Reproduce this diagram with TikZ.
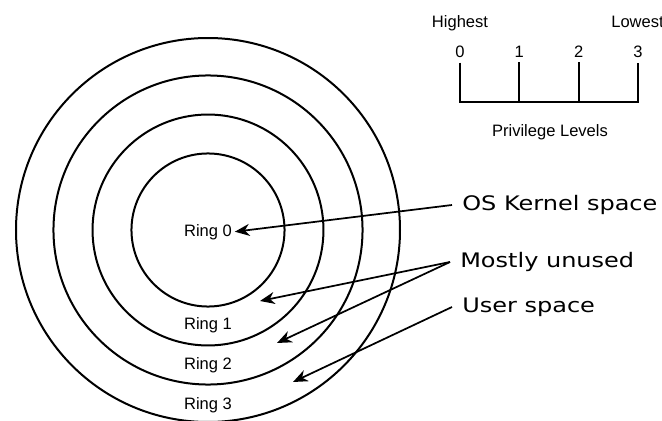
\documentclass[tikz,border=0pt]{standalone}
\usepackage{fontspec}
\setmainfont{Liberation Sans}
\newfontfamily\bigfont[FakeStretch=1.2]{DejaVu Sans}
\usetikzlibrary{arrows.meta}

\begin{document}
\begin{tikzpicture}[x=0.75pt,y=-0.75pt,font=\fontsize{12.4}{14}\selectfont]
      \tikzstyle{ring}=[draw,line width=1.5pt]
      \tikzstyle{ring label}=[anchor=base,inner sep=2pt]
      \tikzstyle{space label}=[anchor=west,inner xsep=7.5pt,font=\bigfont\fontsize{15}{18}\selectfont]
      \tikzstyle{pointer}=[draw,line width=1.3pt,-{Stealth[length=11pt,width=9pt,inset=3.5pt]}]
      \tikzstyle{scale line}=[draw,line width=1.5pt]

      \useasboundingbox (0,0) rectangle (662,421);

      % the four rings
      \coordinate (c) at (208,230);
      \foreach \r in {57.4,86.6,115.9,144}
          \draw[ring] (c) circle[radius=\r pt];

      \node[ring label] (r0) at (208,236) {Ring 0};
      \node[ring label] (r1) at (208,329) {Ring 1};
      \node[ring label] (r2) at (208,369) {Ring 2};
      \node[ring label] (r3) at (208,409) {Ring 3};

      % privilege scale
      \foreach \i/\x in {0/460,1/519.3,2/578.7,3/638}
          \node (n\i) at (\x,52) {\i};
      \coordinate (base) at (460,102);
      \draw[scale line] (n0.south) -- (n0.south |- base) -- (n3.south |- base) -- (n3.south);
      \draw[scale line] (n1.south) -- (n1.south |- base);
      \draw[scale line] (n2.south) -- (n2.south |- base);
      \node[anchor=base] (high) at (460,27.5) {Highest};
      \node[anchor=base] (low) at (637.5,27.5) {Lowest};
      \node[anchor=base] (levels) at (550,137) {Privilege Levels};

      % pointers
      \coordinate (t1) at (260,301);
      \coordinate (t2) at (277,343);
      \coordinate (t3) at (293,382);
      \node[space label] (kernel) at (452,205) {OS Kernel space};
      \node[space label] (unused) at (450,262) {Mostly unused};
      \node[space label] (user) at (452,307) {User space};
      \draw[pointer] (kernel.west) -- (r0.east);
      \draw[pointer] (unused.west) -- (t1);
      \draw[pointer] (unused.west) -- (t2);
      \draw[pointer] (user.west) -- (t3);
\end{tikzpicture}
\end{document}
